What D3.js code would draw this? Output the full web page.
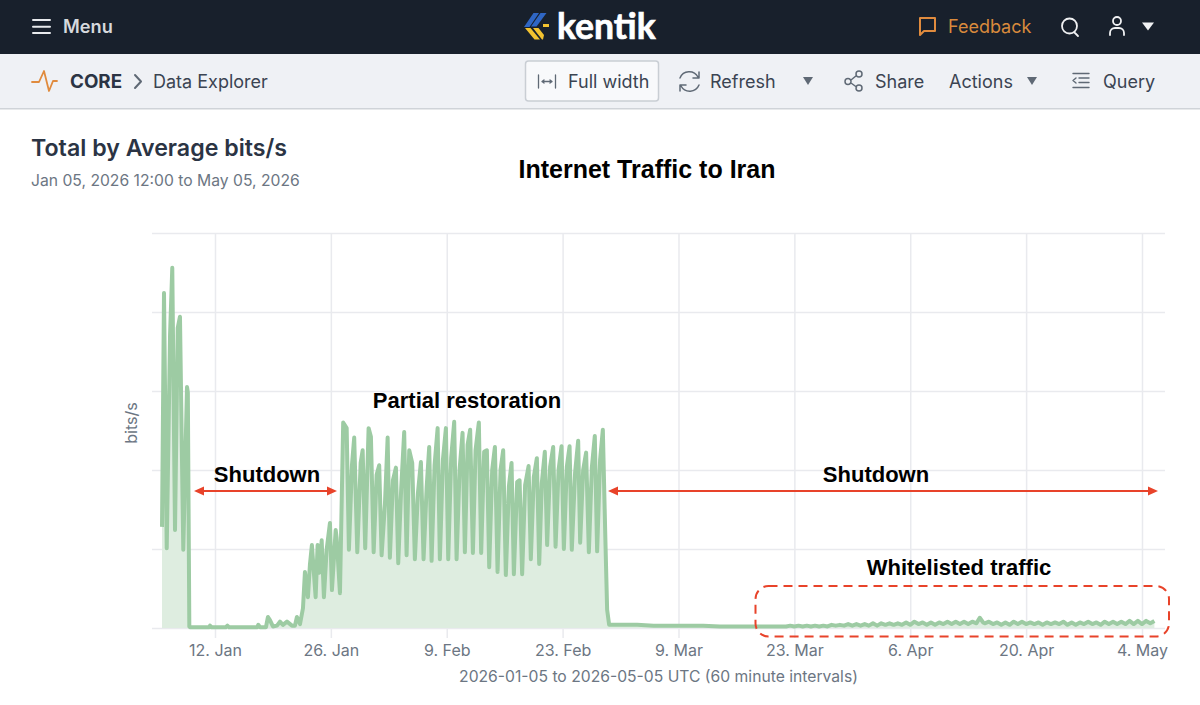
<!DOCTYPE html>
<html>
<head>
<meta charset="utf-8">
<script src="https://cdn.jsdelivr.net/npm/d3@7"></script>
<style>
    html, body { margin: 0; padding: 0; background: #fff; overflow: hidden; }
    svg { display: block; }
    text { font-family: Inter, "Noto Sans", sans-serif; }
    .note { font-family: "Liberation Sans", Arial, sans-serif; font-weight: 700; fill: #000; text-anchor: middle; }
    .icon { fill: none; stroke-linecap: round; stroke-linejoin: round; }
</style>
</head>
<body>
<div id="chart"></div>
<script>
// Days since 2026-01-05 00:00 UTC
const days = [
    0.6, 0.84, 1.17, 1.57, 1.84, 2.17, 2.5, 2.77, 3.17, 3.62, 3.72, 3.9,
    3.98, 6.3, 6.4, 6.6, 8.3, 8.5, 8.7, 12.1, 12.23, 12.45, 13.16, 13.4, 13.64, 14.0, 14.49, 14.85, 15.21, 15.7, 16.3, 16.66, 16.9, 17.27,
    17.63, 17.87, 18.23, 18.47, 18.71, 19.16, 19.4, 19.62, 19.89, 20.16, 20.49, 20.89, 21.13, 21.58, 21.7, 22.1,
    22.49, 22.91, 23.18, 23.55, 23.82, 24.19, 24.6, 24.84, 25.15, 25.56, 25.84, 26.17, 26.53, 26.84, 27.13, 27.53, 27.86,
    28.13, 28.5, 28.86, 29.14, 29.5, 29.86, 30.15, 30.47, 30.83, 31.15, 31.52, 31.88, 32.2, 32.57, 32.88, 33.17, 33.53, 33.9,
    34.17, 34.54, 34.9, 35.18, 35.54, 35.9, 36.19, 36.55, 36.91, 37.19, 37.52, 37.83, 38.16, 38.48, 38.88, 39.16, 39.52, 39.85,
    40.13, 40.49, 40.82, 41.14, 41.5, 41.82, 42.14, 42.51, 42.83, 43.11, 43.51, 43.8, 44.11, 44.47, 44.89, 45.16, 45.52, 45.89,
    46.17, 46.49, 46.85, 47.13, 47.49, 47.86, 48.15, 48.51, 48.87, 49.15, 49.51, 49.84, 50.11, 50.51, 50.88, 51.12, 51.48, 51.84,
    52.17, 52.53, 52.89, 53.17, 53.53, 53.86, 54.16, 54.38, 54.62,
    56, 58, 60, 62, 64, 66, 68, 70, 72, 74, 76,
    76.5, 77, 77.5, 78, 78.5, 79, 79.5, 80, 80.5, 81, 81.5, 82, 82.5, 83, 83.5, 84, 84.5, 85, 85.5, 86, 86.5, 87, 87.5, 88, 88.5, 89, 89.5, 90,
    90.5, 91, 91.5, 92, 92.5, 93, 93.5, 94, 94.5, 95, 95.5, 96, 96.5, 97, 97.5, 98, 98.5, 99, 99.4, 99.8, 100, 100.5, 101, 101.5, 102, 102.5, 103,
    103.5, 104, 104.5, 105, 105.5, 106, 106.5, 107, 107.5, 108, 108.5, 109, 109.5, 110, 110.5, 111, 111.5, 112, 112.5, 113, 113.5, 114, 114.5, 115,
    115.5, 116, 116.5, 117, 117.5, 118, 118.5, 119, 119.5, 120, 120.5
];
// Traffic level at those days. The picture has no y labels, so one gridline step = 100
const traffic = [
    128, 424, 101, 371, 456, 124, 380, 394, 99, 305, 298, 2,
    1, 1, 3, 1, 1, 3, 1, 1, 4, 1, 1, 14, 10, 2, 3, 8, 4, 8, 3, 3, 14, 5,
    25, 71, 39, 80, 105, 39, 105, 70, 111, 39, 99, 133, 48, 124, 114, 44,
    260, 253, 99, 206, 241, 96, 209, 225, 101, 253, 242, 96, 194, 206, 92, 156, 241,
    89, 187, 203, 82, 177, 248, 92, 225, 209, 87, 171, 210, 87, 177, 229, 85, 206, 253,
    87, 213, 253, 87, 216, 261, 87, 200, 247, 96, 232, 251, 95, 225, 260, 95, 223, 225,
    77, 200, 229, 71, 200, 225, 67, 179, 209, 68, 185, 187, 68, 181, 205, 87, 191, 215,
    81, 184, 223, 105, 204, 229, 103, 200, 230, 100, 204, 230, 99, 197, 237, 108, 200, 222,
    96, 203, 243, 97, 213, 251, 115, 23, 4,
    4, 4, 3, 3, 3, 3, 2, 2, 2, 2, 2,
    3, 2, 3, 2, 3, 2, 3, 2, 3, 2, 4, 3, 4, 3, 5, 3, 5, 3, 5, 3, 6, 3, 6, 4, 6, 4, 6, 4,
    7, 4, 8, 5, 7, 4, 7, 4, 7, 5, 8, 5, 8, 5, 8, 5, 8, 6, 13, 7, 6, 8, 5, 7, 4, 7, 4,
    8, 5, 8, 5, 7, 5, 7, 4, 7, 5, 7, 5, 8, 4, 7, 4, 7, 5, 8, 5, 7, 4, 8, 5,
    8, 5, 8, 5, 9, 5, 9, 5, 9, 6, 9
];
const dateTicks = ['2026-01-12', '2026-01-26', '2026-02-09', '2026-02-23', '2026-03-09', '2026-03-23', '2026-04-06', '2026-04-20', '2026-05-04'];
const levelTicks = [0, 100, 200, 300, 400, 500];
const xDomain = ['2026-01-04T09:22Z', '2026-05-06T18:43Z'];

const width = 1200, height = 705;
const plot = {left: 152, right: 1165, top: 233, bottom: 628};
const grey = '#6c7683', ink = '#2b3444', red = '#e8432a';

const svg = d3.select('#chart').append('svg').attr('width', width).attr('height', height);

const x = d3.scaleUtc().domain(xDomain.map(d => new Date(d))).range([plot.left, plot.right]);
const y = d3.scaleLinear().domain([0, 500]).range([plot.bottom, plot.top]);
const series = days.map((d, i) => ({date: new Date(Date.UTC(2026, 0, 5) + d * 864e5), value: traffic[i]}));

// Header bars
svg.append('rect').attr('width', width).attr('height', 54).attr('fill', '#18202c');
svg.append('rect').attr('y', 54).attr('width', width).attr('height', 54).attr('fill', '#eff1f5');
svg.append('rect').attr('y', 108).attr('width', width).attr('height', 1.5).attr('fill', '#cfd3d8');

function label(txt, px, py, size, color, weight) {
    return svg.append('text').attr('x', px).attr('y', py)
        .style('font-size', size + 'px').style('font-weight', weight || 400)
        .attr('fill', color).text(txt);
}
function icon(d, color, w) {
    return svg.append('path').attr('class', 'icon').attr('d', d).attr('stroke', color).attr('stroke-width', w || 1.6);
}
function caret(cx, cy, color, w) {
    svg.append('path').attr('d', `M${cx - w},${cy - 4}H${cx + w}L${cx},${cy + 4}Z`).attr('fill', color);
}

// Top bar
icon('M33,20H50M33,26.7H50M33,33H50', '#e8eaed', 2);
label('Menu', 63, 33, 18.2, '#d6d9dd', 600);
svg.append('path').attr('d', 'M533.5,13H539L529.5,27H524Z M540.5,13H546.5L536.5,26.5H531Z').attr('fill', '#2f66c4');
svg.append('path').attr('d', 'M525,28H530.5L540,39.5H534.5Z M533,28H538.5L544,35L543,39.5H542Z').attr('fill', '#f2c230');
svg.append('rect').attr('x', 543).attr('y', 24).attr('width', 6).attr('height', 3).attr('fill', '#f2c230');
label('kentik', 557, 39, 35.5, '#ffffff', 700).style('font-family', 'Lato, sans-serif')
    .attr('stroke', '#ffffff').attr('stroke-width', 0.7);
icon('M920,18H935V31H924L920,35Z', '#e08b3e', 2);
label('Feedback', 948, 33, 18, '#d98a3c');
icon('M1062,26a7.5,7.5 0 1,0 15,0a7.5,7.5 0 1,0 -15,0M1074,32L1078,36', '#f0f1f3', 1.8);
icon('M1113,21a4,4 0 1,0 8,0a4,4 0 1,0 -8,0M1110,35v-2a5,5 0 0,1 5,-5h4a5,5 0 0,1 5,5v2', '#f0f1f3', 1.8);
caret(1148, 26.5, '#f0f1f3', 6);

// Toolbar
icon('M32,82H39L44,71L49,91L53,81H57', '#e08b3e', 1.8);
label('CORE', 70, 88, 18.8, ink, 700);
icon('M135,75L141,81.5L135,88', '#5f6975', 2);
label('Data Explorer', 153, 88, 18, '#3b4452');
svg.append('rect').attr('x', 525.5).attr('y', 61).attr('width', 133).attr('height', 40).attr('rx', 3)
    .attr('fill', '#f8f9fb').attr('stroke', '#c9ced4').attr('stroke-width', 1.5);
icon('M538.5,75V88M555.5,75V88M542,81.5H552M542,81.5l2,-1.5M542,81.5l2,1.5M552,81.5l-2,-1.5M552,81.5l-2,1.5', '#5f6975', 1.3);
label('Full width', 568, 88, 18, '#3b4452');
icon('M680,78a10,10 0 0,1 18,-1M699,72V78H693M699,85a10,10 0 0,1 -18,1M680,91V85H686', '#5f6975', 1.5);
label('Refresh', 710, 88, 18, '#3b4452');
caret(808, 81, '#5f6975', 5);
icon('M845,81.5a3,3 0 1,0 6,0a3,3 0 1,0 -6,0M856,74a3,3 0 1,0 6,0a3,3 0 1,0 -6,0M856,88a3,3 0 1,0 6,0a3,3 0 1,0 -6,0M851,80L856.5,75.5M851,83L856.5,87', '#5f6975', 1.5);
label('Share', 875, 88, 18, '#3b4452');
label('Actions', 949, 88, 18, '#3b4452');
caret(1032, 81, '#5f6975', 5);
icon('M1073,73.5H1089M1079,78H1089M1079,82.5H1089M1073,87.5H1089M1076,78L1073,80.5L1076,83', '#5f6975', 1.4);
label('Query', 1103, 88, 18, '#3b4452');

// Panel titles
label('Total by Average bits/s', 31, 156, 23.2, ink, 600);
label('Jan 05, 2026 12:00 to May 05, 2026', 31, 186, 15.7, grey);
svg.append('text').attr('class', 'note').attr('x', 647).attr('y', 178).style('font-size', '25px').text('Internet Traffic to Iran');

// Grid and axes
const yAxis = d3.axisLeft(y).tickValues(levelTicks).tickSize(-(plot.right - plot.left)).tickFormat('');
svg.append('g').attr('transform', `translate(${plot.left},0)`).call(yAxis)
    .call(g => g.select('.domain').remove())
    .call(g => g.selectAll('line').attr('stroke', '#e9eaee').attr('stroke-width', 1.5));

const xAxis = d3.axisBottom(x)
    .tickValues(dateTicks.map(d => new Date(d + 'T00:00Z')))
    .tickSize(plot.top - plot.bottom)
    .tickFormat(d3.utcFormat('%-d. %b'));
const xG = svg.append('g').attr('transform', `translate(0,${plot.bottom})`).call(xAxis);
xG.select('.domain').remove();
xG.selectAll('line').attr('stroke', '#e9eaee').attr('stroke-width', 1.5).attr('y2', plot.top - plot.bottom).attr('y1', 10);
xG.selectAll('text').attr('y', 28).attr('dy', 0).attr('fill', grey)
    .style('font-size', '16px').style('font-family', 'Inter, sans-serif');

svg.append('text').attr('x', 658.5).attr('y', 682).attr('text-anchor', 'middle').attr('fill', grey)
    .style('font-size', '15.7px').text('2026-01-05 to 2026-05-05 UTC (60 minute intervals)');
svg.append('text').attr('transform', 'translate(137,423) rotate(-90)').attr('text-anchor', 'middle').attr('fill', grey)
    .style('font-size', '16px').text('bits/s');

// Traffic
const area = d3.area().x(d => x(d.date)).y0(y(0)).y1(d => y(d.value));
const line = d3.line().x(d => x(d.date)).y(d => y(d.value));
svg.append('path').datum(series).attr('d', area).attr('fill', '#deede0');
svg.append('path').datum(series).attr('d', line).attr('fill', 'none')
    .attr('stroke', '#9dcba3').attr('stroke-width', 4).attr('stroke-linejoin', 'round');

// Annotations
function arrow(x1, x2, py) {
    svg.append('line').attr('x1', x1 + 8).attr('x2', x2 - 8).attr('y1', py).attr('y2', py).attr('stroke', red).attr('stroke-width', 2);
    svg.append('path').attr('d', `M${x1},${py}l10,-4.5v9Z M${x2},${py}l-10,-4.5v9Z`).attr('fill', red);
}
arrow(194, 337, 491);
arrow(608, 1158, 491);
[['Shutdown', 267, 482], ['Shutdown', 876, 482], ['Partial restoration', 467, 408], ['Whitelisted traffic', 959, 575]]
    .forEach(d => svg.append('text').attr('class', 'note').attr('x', d[1]).attr('y', d[2]).style('font-size', '22px').text(d[0]));
svg.append('rect').attr('x', 755.5).attr('y', 586).attr('width', 413.5).attr('height', 50.5).attr('rx', 13)
    .attr('fill', 'none').attr('stroke', red).attr('stroke-width', 2).attr('stroke-dasharray', '9 6');
</script>
</body>
</html>
